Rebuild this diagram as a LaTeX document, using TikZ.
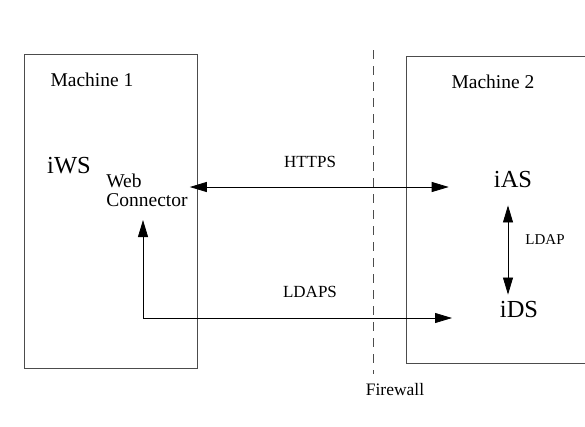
\documentclass[tikz,border=0pt]{standalone}
\usepackage{fontspec}
\setmainfont{Liberation Serif}
\usepackage{tikz}
\usetikzlibrary{arrows.meta, positioning}

\begin{document}
\begin{tikzpicture}[
        x=1pt, y=-1pt,
        machine/.style={rectangle, draw=black!70, line width=0.8pt, anchor=north west, inner sep=0pt},
        boxlabel/.style={font=\fontsize{19.5}{21}\selectfont},
        comp/.style={font=\fontsize{24.5}{27}\selectfont, inner sep=2pt},
        proto/.style={font=\fontsize{17}{19}\selectfont},
        arrow/.style={-{Triangle[length=17pt, width=10pt]}, line width=0.8pt, black},
        dblarrow/.style={{Triangle[length=17pt, width=10pt]}-{Triangle[length=17pt, width=10pt]}, line width=0.8pt, black},
        wall/.style={draw=black!70, line width=0.8pt, dash pattern=on 9pt off 7pt}
    ]

    \clip (0,0) rectangle (585,426);

    % Machines
    \node[machine, minimum width=173pt, minimum height=314pt] (m1) at (24,54) {};
    \node[machine, minimum width=200pt, minimum height=307pt] (m2) at (406,56) {};
    \node[boxlabel] (m1label) at (92,80) {Machine 1};
    \node[boxlabel] (m2label) at (493,82) {Machine 2};

    % Components
    \node[comp] (iws) at (69,166) {iWS};
    \node[boxlabel, align=left, inner sep=2pt] (webconn) at (147,190) {Web\\[-2pt]Connector};
    \node[comp] (ias) at (513,180) {iAS};
    \node[comp] (ids) at (519,310) {iDS};
    \coordinate (ldapsstart) at (143,318);

    % Firewall
    \coordinate (fwtop) at (373,50);
    \coordinate (fwbot) at (373,374);
    \draw[wall] (fwtop) -- (fwbot);
    \node[proto, font=\fontsize{17.5}{19}\selectfont] (firewall) at (395,390) {Firewall};

    % Arrows
    \draw[dblarrow, shorten >=43pt] (webconn.east |- 0,187) -- (ias.west |- 0,187);
    \draw[dblarrow] ([xshift=-5pt, yshift=-15pt]ias.south) -- ([xshift=-11pt, yshift=5pt]ids.north);
    \draw[arrow] (ldapsstart) -- (ldapsstart |- 0,220);
    \draw[arrow] (ldapsstart) -- (ldapsstart -| 452,0);

    % Labels
    \node[proto] (https) at (310,162) {HTTPS};
    \node[proto] (ldaps) at (310,292) {LDAPS};
    \node[proto, font=\fontsize{15}{17}\selectfont] (ldap) at (545,240) {LDAP};

\end{tikzpicture}
\end{document}
